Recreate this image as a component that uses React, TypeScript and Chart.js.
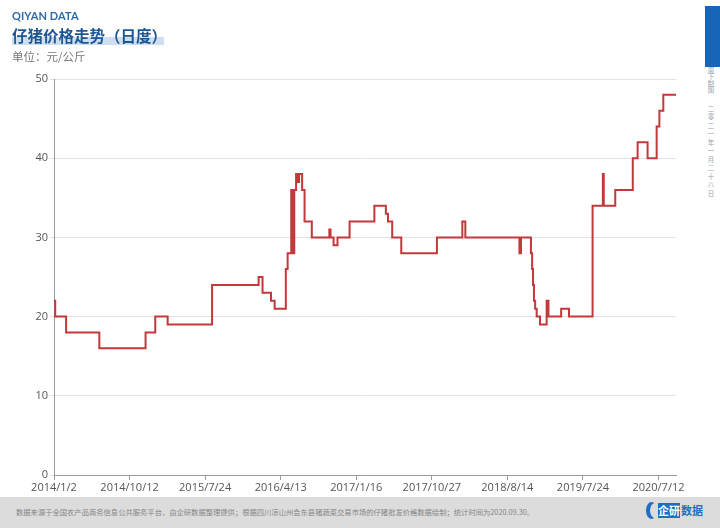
import React, { useEffect, useRef } from 'react';
import { Chart, registerables } from 'chart.js';

Chart.register(...registerables);

// X-axis tick labels (one every obsPerLabel observations)
const tickLabels = ['2014/1/2', '2014/10/12', '2015/7/24', '2016/4/13', '2017/1/16', '2017/10/27', '2018/8/14', '2019/7/24', '2020/7/12'];
const obsPerLabel = 250;
const lastObs = 2058;

// Observation index at which the price changes, and the new price (元/公斤)
const changeObs = [
  0, 4, 40, 150, 303, 335, 376, 523, 677, 690, 718, 730, 767, 773,
  785, 787, 790, 793, 795, 801, 807, 811, 821, 829, 853, 911, 915, 925, 938,
  978, 1060, 1098, 1105, 1119, 1149, 1267, 1351, 1361, 1540, 1545,
  1578, 1582, 1585, 1588, 1592, 1597, 1608, 1630, 1636, 1678, 1704,
  1782, 1816, 1819, 1857, 1915, 1931, 1964, 1994, 2003, 2016, 2058,
];
const priceValues = [
  22, 20, 18, 16, 18, 20, 19, 24, 25, 23, 22, 21, 26, 28,
  36, 28, 36, 28, 36, 38, 37, 38, 36, 32, 30, 31, 30, 29, 30,
  32, 34, 33, 32, 30, 28, 30, 32, 30, 28, 30,
  28, 26, 24, 22, 21, 20, 19, 22, 20, 21, 20,
  34, 38, 34, 36, 40, 42, 40, 44, 46, 48, 48,
];

const yTicks = [0, 10, 20, 30, 40, 50];

const title = '仔猪价格走势（日度）';
const unit = '单位：元/公斤';
const source = '数据来源于全国农产品商务信息公共服务平台，由企研数据整理提供；根据四川凉山州会东县猪蔬菜交易市场的仔猪批发价格数据绘制；统计时间为2020.09.30。';

export default function App() {
  const ref = useRef<HTMLCanvasElement>(null);

  useEffect(() => {
    if (!ref.current) return;
    const chart = new Chart(ref.current, {
      type: 'line',
      data: {
        datasets: [
          {
            data: changeObs.map((x, i) => ({ x, y: priceValues[i] })),
            borderColor: '#c2383b',
            borderWidth: 2,
            pointRadius: 0,
            stepped: 'before',
            fill: false,
          },
        ],
      },
      options: {
        animation: false,
        responsive: false,
        maintainAspectRatio: false,
        layout: { padding: { top: 79, right: 14, left: 0, bottom: 0 } },
        plugins: { legend: { display: false }, tooltip: { enabled: false } },
        scales: {
          x: {
            type: 'linear',
            min: 0,
            max: lastObs,
            afterBuildTicks: (s: any) => {
              s.ticks = tickLabels.map((_, i) => ({ value: i * obsPerLabel }));
            },
            afterFit: (s: any) => {
              s.height = 22;
            },
            ticks: {
              autoSkip: false,
              maxRotation: 0,
              padding: 1,
              color: '#555',
              font: { family: 'Open Sans', size: 11 },
              callback: (v: any) => tickLabels[Math.round(Number(v) / obsPerLabel)] ?? '',
            },
            grid: { drawOnChartArea: false, tickLength: 5, color: '#9a9a9a' },
            border: { color: '#9a9a9a' },
          },
          y: {
            min: 0,
            max: 50,
            afterBuildTicks: (s: any) => {
              s.ticks = yTicks.map((value) => ({ value }));
            },
            afterFit: (s: any) => {
              s.width = 54;
            },
            ticks: {
              padding: 2,
              color: '#555',
              font: { family: 'Open Sans', size: 11 },
            },
            grid: { color: '#e2e2e2', tickLength: 4 },
            border: { color: '#9a9a9a' },
          },
        },
      },
    });
    return () => chart.destroy();
  }, []);

  return (
    <div
      style={{
        position: 'fixed',
        left: 0,
        top: 0,
        width: 720,
        height: 528,
        background: '#ffffff',
        overflow: 'hidden',
        fontFamily: '"Noto Sans CJK SC", "Noto Sans", sans-serif',
      }}
    >
      <canvas ref={ref} width={690} height={497} style={{ position: 'absolute', left: 0, top: 0, width: 690, height: 497 }} />

      <div style={{ position: 'absolute', left: 12, top: 9, fontFamily: 'Lato, "Open Sans", sans-serif', fontWeight: 700, fontSize: 11, color: '#2f6aa6', letterSpacing: 0.1 }}>
        QIYAN DATA
      </div>
      <div style={{ position: 'absolute', left: 12, top: 37, width: 152, height: 8, background: '#cddff0' }} />
      <div style={{ position: 'absolute', left: 12, top: 25, fontWeight: 700, fontSize: 15.5, color: '#1c5795', lineHeight: '20px', whiteSpace: 'nowrap' }}>
        {title}
      </div>
      <div style={{ position: 'absolute', left: 12, top: 48, fontSize: 11.5, color: '#777', lineHeight: '16px', whiteSpace: 'nowrap' }}>
        {unit}
      </div>

      <div style={{ position: 'absolute', left: 705, top: 6, width: 15, height: 61, background: '#1565b8' }} />
      <div
        style={{
          position: 'absolute',
          left: 707,
          top: 67,
          writingMode: 'vertical-rl',
          fontSize: 6.5,
          color: '#9aa3ad',
          lineHeight: '8px',
          whiteSpace: 'nowrap',
        }}
      >
        <span>周下制图</span>
        <span style={{ display: 'inline-block', height: 12 }} />
        <span style={{ letterSpacing: 2 }}>二零二一年一月二十八日</span>
      </div>

      <div style={{ position: 'absolute', left: 0, top: 497, width: 720, height: 31, background: '#dcdcdc' }} />
      <div style={{ position: 'absolute', left: 16, top: 507, fontSize: 7.3, color: '#858585', lineHeight: '10px', whiteSpace: 'nowrap' }}>
        {source}
      </div>
      <div style={{ position: 'absolute', left: 646, top: 502, width: 11, height: 17, borderRadius: '50%', background: '#1f6fc0' }} />
      <div style={{ position: 'absolute', left: 650, top: 503, width: 10, height: 15, borderRadius: '50%', background: '#dcdcdc' }} />
      <div style={{ position: 'absolute', left: 658, top: 503, width: 22, height: 15, background: '#1f6fc0', color: '#fff', fontSize: 11, fontWeight: 700, lineHeight: '15px', textAlign: 'center' }}>
        企研
      </div>
      <div style={{ position: 'absolute', left: 681, top: 503, fontSize: 11, fontWeight: 700, color: '#1f6fc0', lineHeight: '15px' }}>
        数据
      </div>
    </div>
  );
}
